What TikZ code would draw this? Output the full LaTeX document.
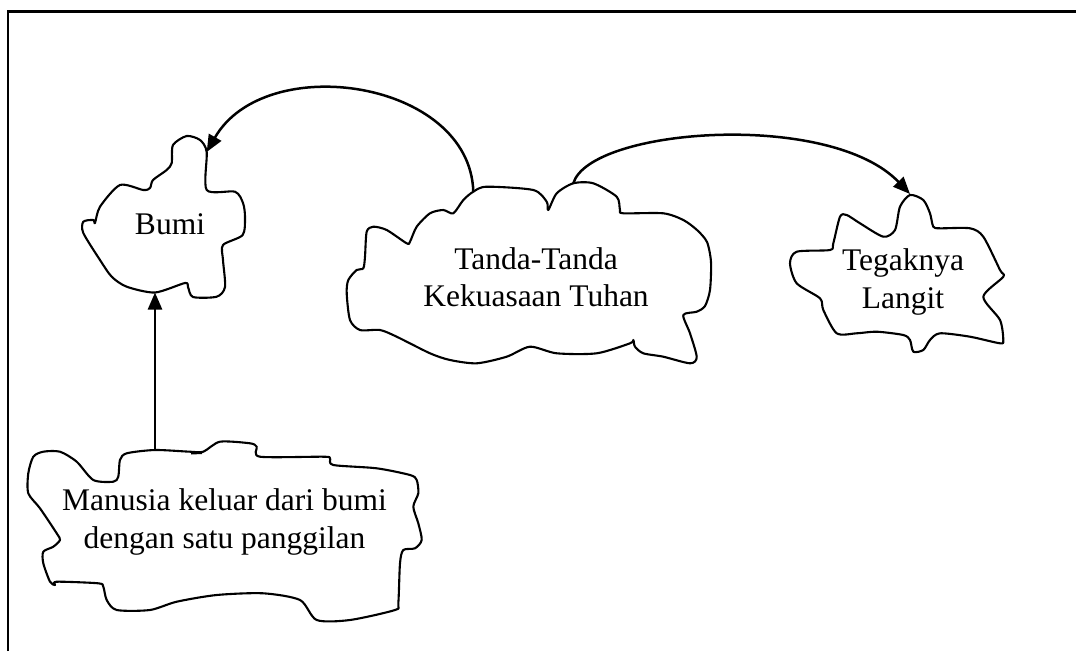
\documentclass[tikz,border=0pt]{standalone}
\usepackage{fontspec}
\setmainfont{Liberation Serif}
\usetikzlibrary{arrows.meta}

\begin{document}
\begin{tikzpicture}[x=1pt,y=-1pt,
  cloud/.style={line width=2.1pt,line join=round},
  label/.style={font=\fontsize{31.5}{37.5}\selectfont,align=center,inner sep=0pt},
  link/.style={line width=2.5pt,-{Triangle[length=17pt,width=14pt]}}]
\useasboundingbox (0,0) rectangle (1076,651);

% frame
\draw[line width=2.2pt] (8,651) -- (8,11.5) -- (1076,11.5);

% Bumi
\draw[cloud] plot[smooth cycle,tension=0.45] coordinates {
  (206.7,152) (206.7,190) (235,191.7) (243,203) (245,217) (242.7,235)
  (223,245) (223,260) (225,287) (216.7,296.7) (193,297) (188,287)
  (185,283) (155,292.5) (126.7,286.7) (111.7,276.7) (100,260)
  (83.3,233) (83.3,221.7) (93.3,220) (95,223) (100,206.7) (120,185)
  (143.3,190) (150,188) (153,180) (166.7,170) (171.7,163) (173,145)
  (186.7,136) (200,140)};
\coordinate (bumiTop) at (206.7,152);
\coordinate (bumiBot) at (155,292.5);
\node[label] (bumi) at (170,224) {Bumi};

% Tanda-Tanda Kekuasaan Tuhan
\draw[cloud] plot[smooth cycle,tension=0.45] coordinates {
  (473.3,191.7) (486.7,186.7) (533.3,190) (546.7,201.7) (548.3,210)
  (556.7,193.3) (573.3,183.3) (593.3,183.3) (616.7,196.7) (620,210)
  (623.3,213.3) (663.3,213.3) (683.3,220) (697,230) (707,242)
  (711,262) (710,290) (705,306) (696.7,311.7) (683.3,315)
  (690,333.3) (696.7,357) (690,363.3) (663.3,356.7) (643.3,353.3)
  (635,346.7) (633.3,340) (630,343.3) (596.7,353.3) (556.7,353.3)
  (530,346.7) (506.7,356.7) (476.7,363.3) (450,360) (430,353.3)
  (396.7,336.7) (380,330) (360,330) (350,320) (346.7,293.3)
  (348.3,280) (356.7,270) (363.3,268.3) (365,256.7) (366.7,231.7)
  (373.3,226.7) (386.7,230) (406.7,243.3) (410,241.7) (416.7,226.7)
  (430,213.3) (443.3,210) (453.3,213.3) (463.3,200)};
\coordinate (tandaL) at (473.3,191.7);
\coordinate (tandaR) at (573.3,183.3);
\node[label] (tanda) at (536,277) {Tanda-Tanda\\Kekuasaan Tuhan};

% Tegaknya Langit
\draw[cloud] plot[smooth cycle,tension=0.45] coordinates {
  (910,195) (923.3,200) (930,213.3) (933.3,226.7) (940,228.3)
  (970,228.3) (983.3,236.7) (1000,270) (1003.3,276.7) (983.3,296.7)
  (1000,320) (1003.3,340) (1000,343.3) (970,336.7) (940,333.3)
  (930,340) (923.3,350) (913.3,351.7) (910,340) (903.3,335)
  (876.7,331.7) (856.7,333.3) (836.7,333.3) (823.3,310) (820,298.3)
  (796.7,283.3) (790,263.3) (796.7,251.7) (830,250) (833.3,243.3)
  (840,216.7) (846.7,215) (860,223.3) (883.3,236.7) (895,230)
  (900,206.7)};
\coordinate (tegakTop) at (910,194);
\node[label] (tegak) at (903,282) {Tegaknya\\Langit};

% Manusia keluar dari bumi
\draw[cloud] plot[smooth cycle,tension=0.45] coordinates {
  (33.3,456.7) (43.3,451.7) (60,451.7) (76.7,461.7) (93.3,480)
  (113.3,481.7) (118.3,476.7) (120,460) (126.7,453.3) (155,450)
  (190,451.7) (203.3,451.7) (220,441.7) (250,443.3) (256.7,446.7)
  (260,456.7) (323.3,456.7) (330,458.3) (333.3,465) (376.7,468.3)
  (410,475) (416.7,480) (418.3,493.3) (413.3,506.7) (418.3,523.3)
  (421.7,540) (415,548.3) (403.3,550) (400,563.3) (398.3,603.3)
  (395,610) (350,620) (316.7,620) (300,600) (263.3,593.3)
  (216.7,595) (176.7,601.7) (150,610) (116.7,610) (106.7,600)
  (103.3,586.7) (98.3,583.3) (56.7,581.7) (55,585) (50,581.7)
  (43.3,563.3) (43.3,551.7) (53.3,546.7) (60,540) (56.7,533.3)
  (40,508.3) (28.3,493.3) (28.3,473.3)};
\draw[line width=3pt] (191,453) -- (202,452.5);
\coordinate (manusiaTop) at (155,450);
\node[label] (manusia) at (224.5,522) {Manusia keluar dari bumi\\dengan satu panggilan};

% connectors
\draw[link] (manusiaTop) -- (bumiBot);
\draw[link] (tandaL) .. controls (470,80) and (265,50) .. (bumiTop);
\draw[link] (tandaR) .. controls (590,128) and (830,110) .. (tegakTop);
\end{tikzpicture}
\end{document}
